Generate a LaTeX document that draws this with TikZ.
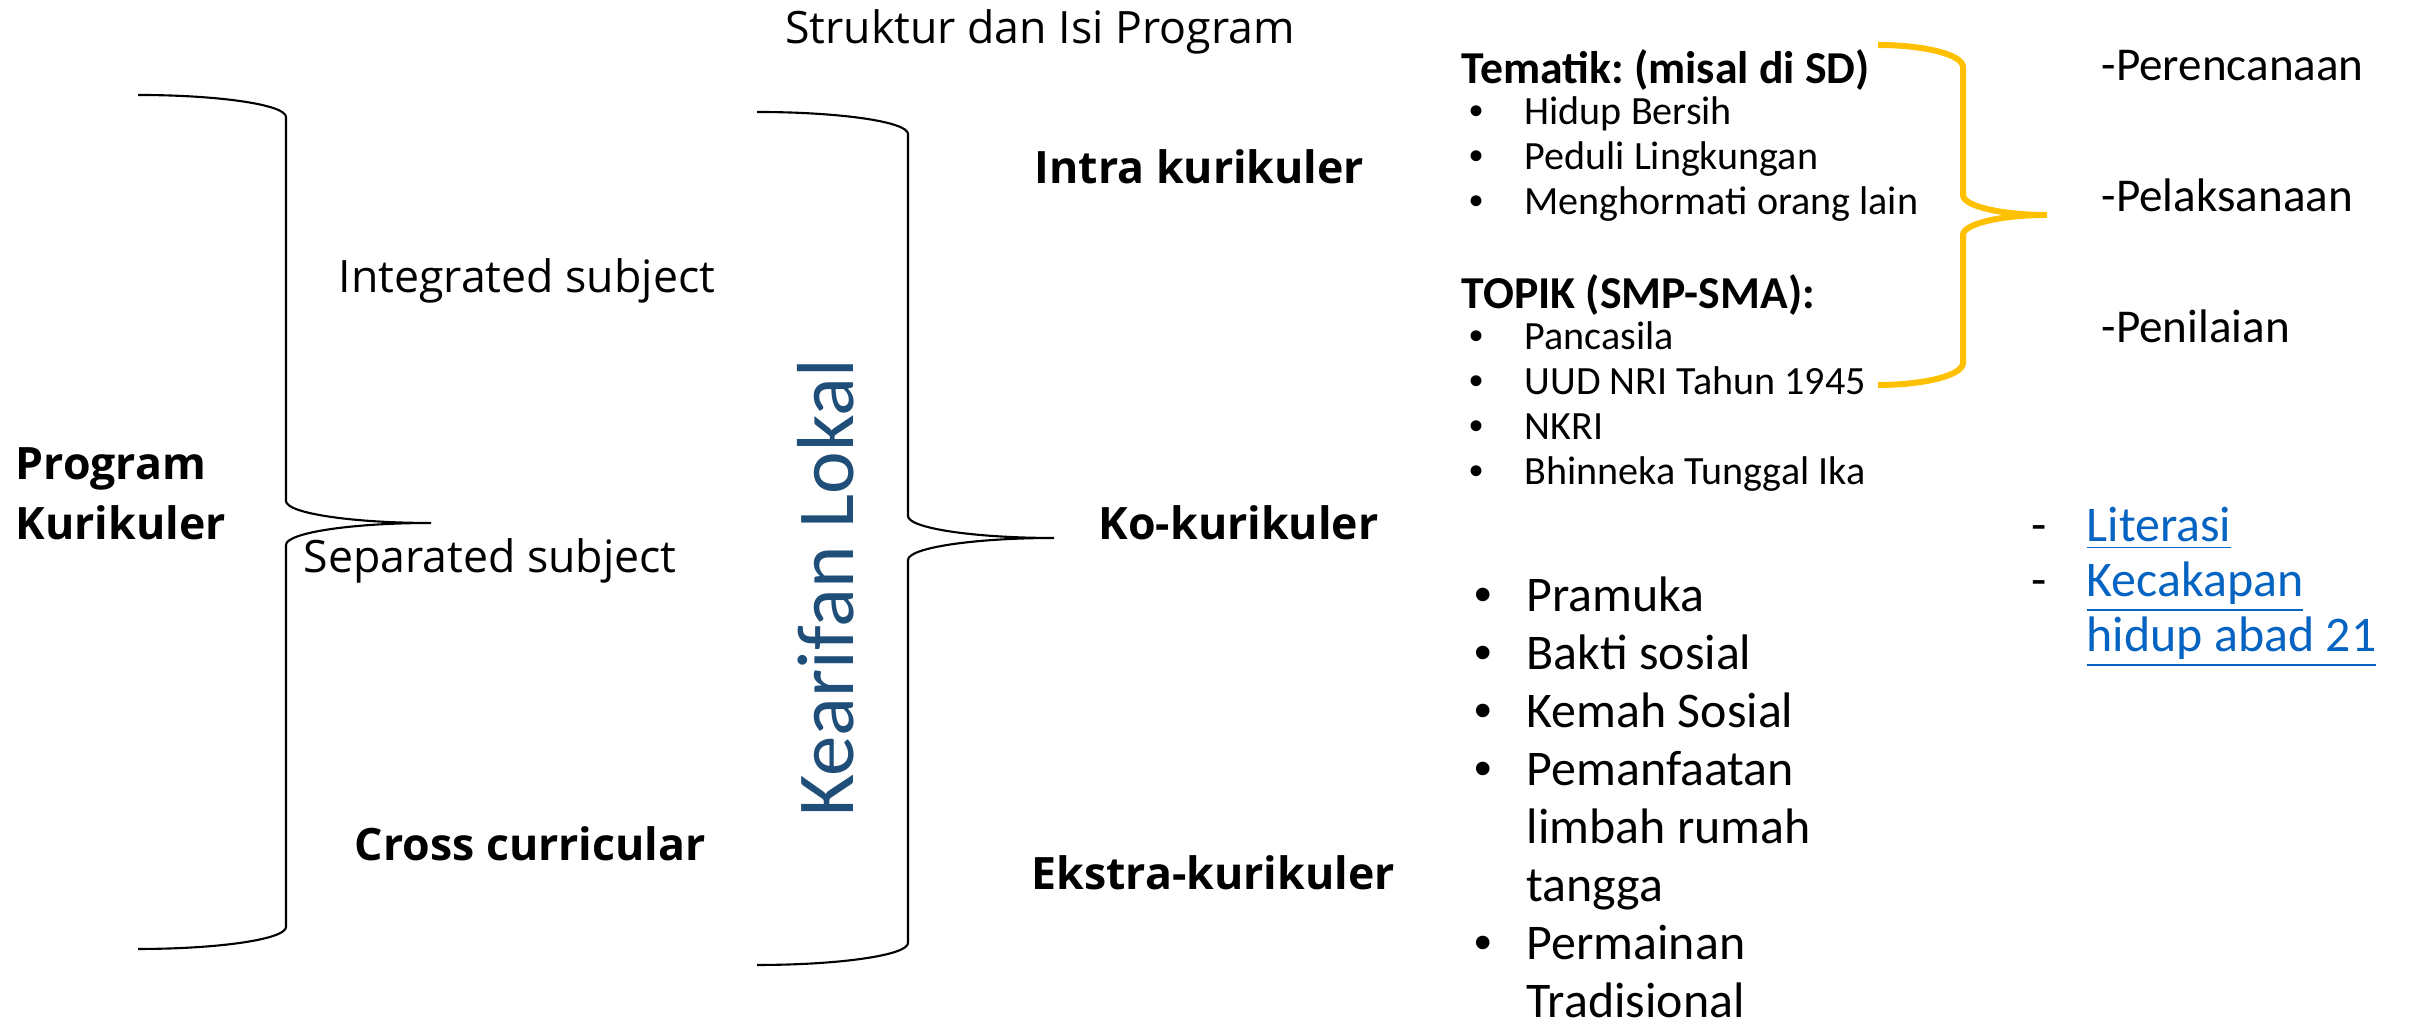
\documentclass[tikz,border=0pt]{standalone}
\usepackage{fontspec}
\setmainfont{Open Sans}
\newfontfamily\calib{Carlito}
\newfontfamily\arial{Liberation Sans}
\newcommand{\titik}{{\arial •}}

\definecolor{lokal}{HTML}{1F4E79}
\definecolor{kuning}{HTML}{FFC000}
\definecolor{tautan}{HTML}{0563C1}

\begin{document}
\frenchspacing
\begin{tikzpicture}[
  every node/.style={inner sep=0pt},
  biasa/.style={font=\fontsize{12.7}{16}\selectfont, anchor=base west},
  tebal/.style={font=\fontsize{12.7}{17}\selectfont\bfseries, anchor=base west},
  poin/.style={font=\calib\fontsize{11.4}{13}\selectfont, anchor=base west},
  kepala/.style={font=\calib\fontsize{13}{15}\selectfont\bfseries, anchor=base west},
  besar/.style={font=\calib\fontsize{14.2}{17}\selectfont, anchor=base west},
  kurung/.style={draw=black, line width=0.6pt},
]
\useasboundingbox (0,0) rectangle (24.12,10.23);
% title
\node[biasa, anchor=base] (title) at (10.40,9.79) {Struktur dan Isi Program};

% left brace
\draw[kurung] (1.38,9.28) arc[start angle=90, end angle=0, x radius=1.48, y radius=0.22]
  -- (2.86,5.22) arc[start angle=180, end angle=270, x radius=1.45, y radius=0.22]
  arc[start angle=90, end angle=180, x radius=1.45, y radius=0.22]
  -- (2.86,0.96) arc[start angle=0, end angle=-90, x radius=1.48, y radius=0.22];
\node[tebal, anchor=west, align=left] (prog) at (0.15,5.29) {Program\\Kurikuler};
\node[biasa] (integ) at (3.38,7.30) {Integrated subject};
\node[biasa] (separ) at (3.03,4.50) {Separated subject};
\node[tebal] (cross) at (3.54,1.62) {Cross curricular};

% middle brace
\draw[kurung] (7.57,9.11) arc[start angle=90, end angle=0, x radius=1.51, y radius=0.22]
  -- (9.08,5.07) arc[start angle=180, end angle=270, x radius=1.46, y radius=0.22]
  arc[start angle=90, end angle=180, x radius=1.46, y radius=0.22]
  -- (9.08,0.80) arc[start angle=0, end angle=-90, x radius=1.51, y radius=0.22];
\node[font=\calib\fontsize{23}{26}\selectfont, text=lokal, rotate=90, anchor=base]
  (lokal) at (8.53,4.35) {Kearifan Lokal};
\node[tebal] (intra) at (10.34,8.39) {Intra kurikuler};
\node[tebal] (ko) at (10.98,4.83) {Ko-kurikuler};
\node[tebal] (ekstra) at (10.31,1.33) {Ekstra-kurikuler};

% intra list
\node[kepala] (tem) at (14.61,9.39) {Tematik: (misal di SD)};
\foreach \lbl [count=\i] in {Hidup Bersih, Peduli Lingkungan, Menghormati orang lain}
  \node[poin] (tem\i) at (14.69,9.43-0.45*\i) {\makebox[0.55cm][l]{\titik}\lbl};
\node[kepala] (topik) at (14.61,7.14) {TOPIK (SMP-SMA):};
\foreach \lbl [count=\i] in {Pancasila, UUD NRI Tahun 1945, NKRI, Bhinneka Tunggal Ika}
  \node[poin] (top\i) at (14.69,7.18-0.45*\i) {\makebox[0.55cm][l]{\titik}\lbl};

% yellow brace
\draw[draw=kuning, line width=1.7pt] (18.78,9.78) arc[start angle=90, end angle=0, x radius=0.85, y radius=0.22]
  -- (19.63,8.28) arc[start angle=180, end angle=270, x radius=0.84, y radius=0.2]
  arc[start angle=90, end angle=180, x radius=0.84, y radius=0.2]
  -- (19.63,6.60) arc[start angle=0, end angle=-90, x radius=0.85, y radius=0.22];
\foreach \lbl [count=\i] in {Perencanaan, Pelaksanaan, Penilaian}
  \node[font=\calib\fontsize{13.4}{16}\selectfont, anchor=base west] (tahap\i) at (21.01,10.73-1.31*\i) {-\lbl};

% ko list
\node[besar] (lit) at (20.31,4.81) {\makebox[0.55cm][l]{-}\textcolor{tautan}{\underline{Literasi}}};
\node[besar] (kec) at (20.31,4.26) {\makebox[0.55cm][l]{-}\textcolor{tautan}{\underline{Kecakapan}}};
\node[besar] (hidup) at (20.31,3.71) {\hspace*{0.55cm}\textcolor{tautan}{\underline{hidup abad 21}}};

% ekstra list
\foreach \lbl/\b [count=\i] in {Pramuka/1, Bakti sosial/1, Kemah Sosial/1, Pemanfaatan/1,
    limbah rumah/0, tangga/0, Permainan/1, Tradisional/0}
  \node[besar] (eks\i) at (14.74,4.69-0.579*\i) {\makebox[0.52cm][l]{\ifnum\b=1 \titik\fi}\lbl};
\end{tikzpicture}
\end{document}
